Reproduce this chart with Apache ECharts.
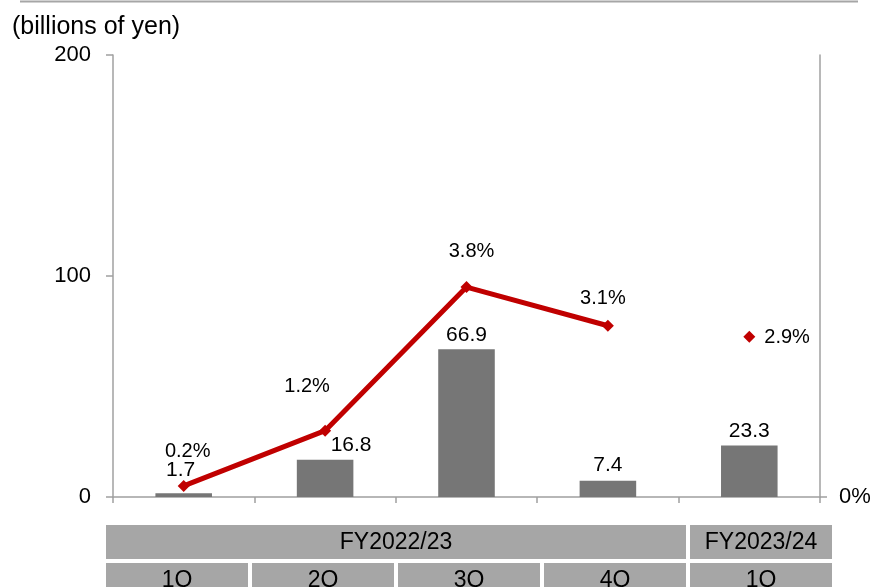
<!DOCTYPE html>
<html>
<head>
<meta charset="utf-8">
<script src="https://cdn.jsdelivr.net/npm/echarts@6/dist/echarts.min.js"></script>
<style>
html,body{margin:0;padding:0;background:#fff;overflow:hidden;}
#chart{width:879px;height:587px;}
</style>
</head>
<body>
<div id="chart"></div>
<script>
// ---- data ----
var quarters = ['1Q', '2Q', '3Q', '4Q', '1Q'];
var fiscalYears = ['FY2022/23', 'FY2023/24'];
var fiscalYearSpans = [4, 1]; // number of quarters per fiscal year
var profitValues = [1.7, 16.8, 66.9, 7.4, 23.3];           // billions of yen
var marginFY2022 = [0.2, 1.2, 3.8, 3.1, '-'];              // %
var marginFY2023 = ['-', '-', '-', '-', 2.9];              // %
var leftTicks = [0, 100, 200];
var unitLabel = '(billions of yen)';

// ---- styling (label nudges to avoid overlaps) ----
var barLabelOffsets = [[-3, -8], [26, 1], [0, 2], [0, 0], [0, 1]];
var lineLabelOffsets = [[4, -13], [-18, -23], [5, -15], [-5, -6]];

var FONT = 'Liberation Sans, Arial, sans-serif';
var RED = '#c00000';
var AXIS = '#a0a0a0';
var CELL = '#a6a6a6';

var chart = echarts.init(document.getElementById('chart'));

var barData = profitValues.map(function (v, i) {
  return { value: v, label: { offset: barLabelOffsets[i] } };
});
var lineData = marginFY2022.map(function (v, i) {
  return { value: v, label: { offset: lineLabelOffsets[i] || [0, 0] } };
});

// ---- table under the chart (layout constants) ----
var tableLeft = 106, cellW = 142, gap = 4;
var row1Y = 525, row2Y = 563, rowH = 34;
function tableGraphics() {
  var els = [];
  var idx = 0;
  fiscalYears.forEach(function (fy, k) {
    var x = tableLeft + idx * (cellW + gap);
    var w = fiscalYearSpans[k] * (cellW + gap) - gap;
    idx += fiscalYearSpans[k];
    els.push({ type: 'rect', shape: { x: x, y: row1Y, width: w, height: rowH }, style: { fill: CELL }, silent: true });
    els.push({ type: 'text', x: x + w / 2, y: row1Y + rowH / 2 + 1,
      style: { text: fy, fill: '#000', font: '23px ' + FONT, align: 'center', verticalAlign: 'middle' }, silent: true });
  });
  quarters.forEach(function (q, i) {
    var x = tableLeft + i * (cellW + gap);
    els.push({ type: 'rect', shape: { x: x, y: row2Y, width: cellW, height: rowH }, style: { fill: CELL }, silent: true });
    els.push({ type: 'text', x: x + cellW / 2, y: row2Y + rowH / 2 + 1,
      style: { text: q, fill: '#000', font: '23px ' + FONT, align: 'center', verticalAlign: 'middle' }, silent: true });
  });
  els.push({ type: 'line', shape: { x1: 20, y1: 1.5, x2: 858, y2: 1.5 },
    style: { stroke: CELL, lineWidth: 2 }, silent: true });
  els.push({ type: 'text', x: 12, y: 27,
    style: { text: unitLabel, fill: '#000', font: '25px ' + FONT, align: 'left', verticalAlign: 'middle' }, silent: true });
  return els;
}

var option = {
  animation: false,
  grid: { left: 113, right: 59, top: 55, bottom: 90, containLabel: false, outerBoundsMode: 'none' },
  xAxis: {
    type: 'category',
    data: quarters,
    boundaryGap: true,
    axisLine: { lineStyle: { color: AXIS, width: 1.5 } },
    axisTick: { show: true, length: 6, lineStyle: { color: AXIS, width: 1.5 } },
    axisLabel: { show: false },
    splitLine: { show: false }
  },
  yAxis: [
    {
      type: 'value',
      min: leftTicks[0],
      max: leftTicks[leftTicks.length - 1],
      interval: leftTicks[1] - leftTicks[0],
      axisLine: { show: true, lineStyle: { color: AXIS, width: 1.5 } },
      axisTick: { show: true, length: 7, lineStyle: { color: AXIS, width: 1.5 } },
      axisLabel: { margin: 22, color: '#000', fontFamily: FONT, fontSize: 22 },
      splitLine: { show: false }
    },
    {
      type: 'value',
      min: 0,
      max: 8,
      interval: 4,
      position: 'right',
      axisLine: { show: true, lineStyle: { color: AXIS, width: 1.5 } },
      axisTick: { show: true, length: 7, customValues: [0], lineStyle: { color: AXIS, width: 1.5 } },
      axisLabel: {
        margin: 19, color: '#000', fontFamily: FONT, fontSize: 22,
        customValues: [0],
        formatter: function (v) { return v + '%'; }
      },
      splitLine: { show: false }
    }
  ],
  graphic: tableGraphics(),
  series: [
    {
      type: 'bar',
      yAxisIndex: 0,
      data: barData,
      barWidth: '40%',
      itemStyle: { color: '#767676' },
      label: {
        show: true, position: 'top', distance: 5,
        color: '#000', fontFamily: FONT, fontSize: 21
      },
      z: 2
    },
    {
      type: 'line',
      yAxisIndex: 1,
      data: lineData,
      connectNulls: false,
      symbol: 'diamond',
      symbolSize: 12,
      lineStyle: { color: RED, width: 5 },
      itemStyle: { color: RED },
      label: {
        show: true, position: 'top', distance: 5,
        color: '#000', fontFamily: FONT, fontSize: 20,
        formatter: function (p) { return p.value + '%'; }
      },
      z: 3
    },
    {
      type: 'line',
      yAxisIndex: 1,
      data: marginFY2023,
      symbol: 'diamond',
      symbolSize: 12,
      showAllSymbol: true,
      lineStyle: { color: RED, width: 5 },
      itemStyle: { color: RED },
      label: {
        show: true, position: 'right', distance: 5, offset: [4, 1],
        color: '#000', fontFamily: FONT, fontSize: 20,
        formatter: function (p) { return p.value + '%'; }
      },
      z: 3
    }
  ]
};
chart.setOption(option);
</script>
</body>
</html>
